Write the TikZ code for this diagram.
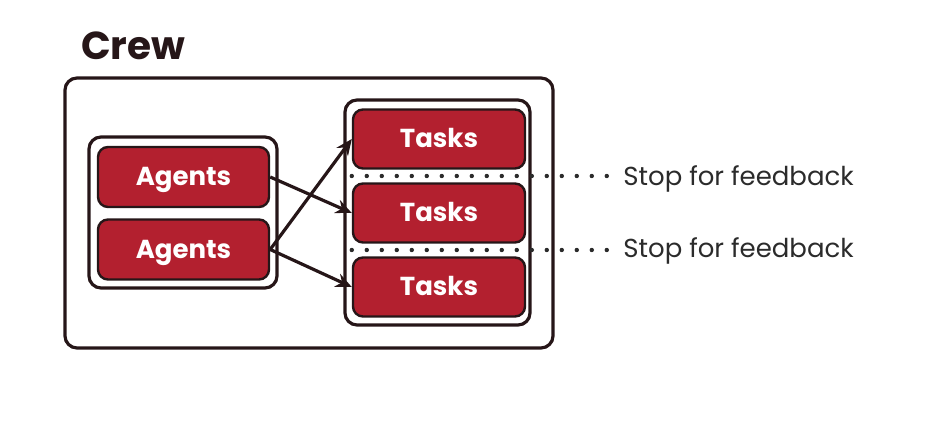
\documentclass[tikz,border=0pt]{standalone}
\usepackage{fontspec}
\setmainfont{Poppins}
\usepackage{tikz}
\usepackage{xcolor}
\usetikzlibrary{arrows.meta}
\usetikzlibrary{positioning}
\usetikzlibrary{calc}

\definecolor{crewred}{HTML}{B3202F}
\definecolor{ink}{HTML}{261618}
\definecolor{note}{HTML}{2B2B2B}

\begin{document}
\begin{tikzpicture}[x=0.5pt, y=-0.5pt,
		box/.style={draw=ink, line width=1.2pt, fill=crewred, rounded corners=5pt, text=white,
			text height=9pt, text depth=0pt, font=\fontsize{13}{15}\selectfont\bfseries},
		group/.style={draw=ink, line width=1.6pt, rounded corners=6pt},
		link/.style={draw=ink, line width=1.6pt, -{Stealth[length=8pt, width=7pt]}},
		stop/.style={note, line width=2.2pt, line cap=round, dash pattern=on 0pt off 7.5pt}]
	
	\useasboundingbox (0,0) rectangle (936,421);
	
	\node[ink, anchor=base west, font=\fontsize{19.5}{22}\selectfont\bfseries] (crew) at (74,60) {Crew};
	
	% groups
	\node[group, minimum width=244pt, minimum height=135pt] (cb) at (309,213) {};
	\node[group, minimum width=94pt, minimum height=75.5pt] (ab) at (183,212.5) {};
	\node[group, minimum width=92.5pt, minimum height=112.5pt] (tb) at (437.5,212.5) {};
	
	% agents
	\node[box, minimum width=85.5pt, minimum height=30pt] (a1) at (183.5,177) {Agents};
	\node[box, minimum width=85.5pt, minimum height=30pt] (a2) at (183.5,249.5) {Agents};
	
	% tasks
	\node[box, minimum width=86pt, minimum height=29.5pt] (t1) at (439,139) {Tasks};
	\node[box, minimum width=86pt, minimum height=29.5pt] (t2) at (439,213) {Tasks};
	\node[box, minimum width=86pt, minimum height=29.5pt] (t3) at (439,287) {Tasks};
	
	% feedback
	\node[note, anchor=west, font=\fontsize{13}{15}\selectfont, inner sep=0pt] (f1) at (623,179) {Stop for feedback};
	\node[note, anchor=west, font=\fontsize{13}{15}\selectfont, inner sep=0pt] (f2) at (623,251) {Stop for feedback};
	\coordinate (s1) at ($(t1.south west)!0.5!(t2.north west)$);
	\coordinate (s2) at ($(t2.south west)!0.5!(t3.north west)$);
	\draw[stop] (s1) -- ([xshift=-8pt]f1.west |- s1);
	\draw[stop] (s2) -- ([xshift=-8pt]f2.west |- s2);
	
	% for a1
	\draw[link] (a1.east) -- (t2.west);
	% for a2
	\draw[link] (a2.east) -- (t1.west);
	\draw[link] (a2.east) -- (t3.west);
\end{tikzpicture}
\end{document}
